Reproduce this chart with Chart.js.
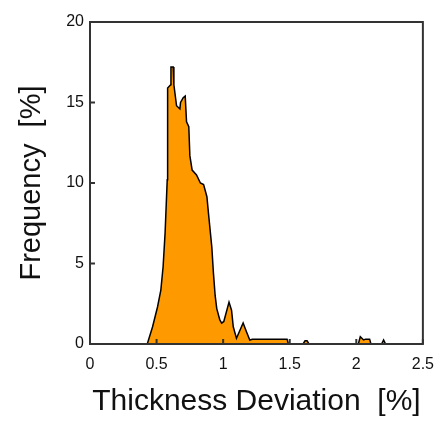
<!DOCTYPE html>
<html>
<head>
<meta charset="utf-8">
<script src="https://cdn.jsdelivr.net/npm/chart.js@4"></script>
<style>
  html, body { margin: 0; padding: 0; background: #fff; }
</style>
</head>
<body>
<canvas id="thickness-chart" width="445" height="421"></canvas>
<script>
// thickness deviation [%] and frequency [%]
var deviation = [0, 0.43, 0.47, 0.507, 0.532, 0.549, 0.564, 0.58, 0.583, 0.606, 0.608, 0.625, 0.63, 0.65,
    0.675, 0.68, 0.70, 0.715, 0.725, 0.742, 0.75, 0.767, 0.80, 0.829, 0.853, 0.878, 0.89, 0.915, 0.927,
    0.94, 0.952, 0.975, 0.989, 1.005, 1.044, 1.063, 1.076, 1.10, 1.15, 1.175, 1.20, 1.22, 1.48, 1.49,
    1.60, 1.615, 1.63, 1.645, 2.015, 2.03, 2.055, 2.07, 2.10, 2.11, 2.19, 2.205, 2.22, 2.5];
var frequency = [0, 0, 1.07, 2.3, 3.35, 4.8, 6.9, 10.2, 15.9, 16.1, 17.2, 17.2, 16.1, 14.8,
    14.6, 15.0, 15.3, 15.4, 13.8, 13.5, 11.7, 10.8, 10.5, 10.0, 9.9, 9.15, 8.1, 6.0, 4.4,
    3.0, 2.2, 1.5, 1.3, 1.4, 2.6, 2.1, 1.07, 0.35, 1.3, 0.76, 0.25, 0.3, 0.3, 0,
    0, 0.2, 0.2, 0, 0, 0.45, 0.25, 0.3, 0.3, 0, 0, 0.25, 0, 0];

var xTicks = [0, 0.5, 1, 1.5, 2, 2.5];
var yTicks = [0, 5, 10, 15, 20];

var points = deviation.map(function (d, i) { return { x: d, y: frequency[i] }; });

var frameColor = '#333';
var fontFamily = 'Liberation Sans, Arial, sans-serif';

// frame round the plot + tick marks pointing inwards
var framePlugin = {
    id: 'frame',
    afterDatasetsDraw: function (chart) {
        var ctx = chart.ctx;
        var area = chart.chartArea;
        var xs = chart.scales.x, ys = chart.scales.y;
        ctx.save();
        ctx.strokeStyle = frameColor;
        ctx.lineWidth = 2;
        ctx.beginPath();
        xTicks.forEach(function (v) {
            var px = xs.getPixelForValue(v);
            ctx.moveTo(px, area.bottom);
            ctx.lineTo(px, area.bottom - 5);
        });
        yTicks.forEach(function (v) {
            var py = ys.getPixelForValue(v);
            ctx.moveTo(area.left, py);
            ctx.lineTo(area.left + 5, py);
        });
        ctx.stroke();
        ctx.strokeRect(area.left, area.top, area.right - area.left, area.bottom - area.top);
        ctx.restore();
    }
};

var chart = new Chart(document.getElementById('thickness-chart'), {
    type: 'line',
    data: {
        datasets: [{
            label: 'Frequency',
            data: points,
            borderColor: '#000',
            borderWidth: 1.5,
            backgroundColor: '#FF9900',
            fill: 'origin',
            pointRadius: 0,
            tension: 0
        }]
    },
    options: {
        responsive: false,
        animation: false,
        layout: { padding: { left: 0, right: 18, top: 22, bottom: 0 } },
        plugins: {
            legend: { display: false },
            tooltip: { enabled: false }
        },
        scales: {
            x: {
                type: 'linear',
                min: 0,
                max: 2.5,
                afterFit: function (scale) { scale.height = 77; },
                afterBuildTicks: function (scale) {
                    scale.ticks = xTicks.map(function (v) { return { value: v }; });
                },
                grid: { display: false, drawTicks: false },
                border: { display: false },
                ticks: {
                    padding: 11,
                    color: '#111',
                    maxRotation: 0,
                    callback: function (v) { return String(v); },
                    font: { family: fontFamily, size: 16 }
                },
                title: {
                    display: true,
                    text: 'Thickness Deviation  [%]',
                    color: '#111',
                    padding: { top: 0, bottom: 1 },
                    font: { family: fontFamily, size: 30 }
                }
            },
            y: {
                min: 0,
                max: 20,
                afterFit: function (scale) { scale.width = 90; },
                afterBuildTicks: function (scale) {
                    scale.ticks = yTicks.map(function (v) { return { value: v }; });
                },
                grid: { display: false, drawTicks: false },
                border: { display: false },
                ticks: {
                    padding: 6,
                    color: '#111',
                    callback: function (v) { return String(v); },
                    font: { family: fontFamily, size: 16 }
                },
                title: {
                    display: true,
                    text: 'Frequency  [%]',
                    color: '#111',
                    padding: { top: 15, bottom: 0 },
                    font: { family: fontFamily, size: 29 }
                }
            }
        }
    },
    plugins: [framePlugin]
});
</script>
</body>
</html>
